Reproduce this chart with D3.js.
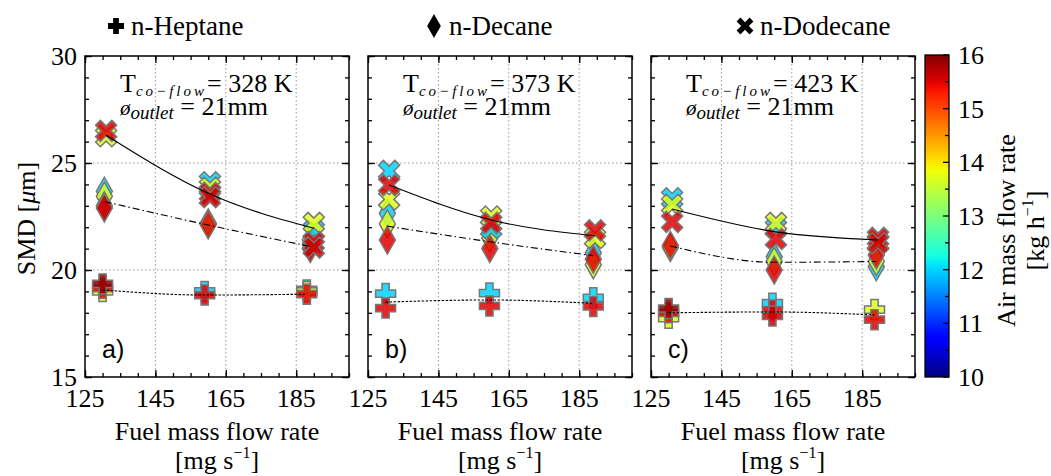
<!DOCTYPE html>
<html>
<head>
<meta charset="utf-8">
<script src="https://cdn.jsdelivr.net/npm/d3@7"></script>
<style>
  body { margin: 0; background: #fff; }
  text { font-family: "Liberation Serif", serif; fill: #000; }
</style>
</head>
<body>
<div id="root"></div>
<script>
// values
var fuels = ['n-Heptane', 'n-Decane', 'n-Dodecane'];
var coflowTemps = [328, 373, 423];
var panelLabels = ['a)', 'b)', 'c)'];
var xTicks = [125, 145, 165, 185];
var yTicks = [15, 20, 25, 30];
var airTicks = [10, 11, 12, 13, 14, 15, 16];

// [panel, fuel mass flow (mg/s), air mass flow (kg/h), SMD (um)]
var heptanePts = [
  [0, 130, 15.9, 19.35], [0, 130, 13.7, 19.0], [0, 130, 15.5, 19.15],
  [0, 159, 12.0, 19.0], [0, 159, 15.5, 18.83],
  [0, 188, 12.0, 19.07], [0, 188, 13.7, 19.0], [0, 188, 15.5, 18.87],
  [1, 130, 12.0, 18.9], [1, 130, 15.5, 18.22],
  [1, 159.5, 12.0, 18.92], [1, 159.5, 15.5, 18.32],
  [1, 189, 12.0, 18.7], [1, 189, 15.5, 18.3],
  [2, 130, 15.9, 18.2], [2, 130, 13.7, 17.75], [2, 130, 15.5, 18.0],
  [2, 159.5, 12.0, 18.45], [2, 159.5, 15.5, 18.13], [2, 159.5, 15.6, 17.85],
  [2, 188.5, 13.7, 18.15], [2, 188.5, 15.5, 17.68]
];
var decanePts = [
  [0, 130.5, 12.0, 23.68], [0, 130.5, 13.7, 23.45], [0, 130.5, 15.5, 23.0], [0, 130.5, 15.6, 22.9],
  [0, 160, 12.0, 22.2], [0, 160, 13.7, 22.15], [0, 160, 15.5, 22.12],
  [0, 189, 13.7, 21.4], [0, 189, 15.5, 21.2], [0, 189, 15.6, 21.0],
  [1, 130.5, 12.0, 22.65], [1, 130.5, 13.7, 22.15], [1, 130.5, 15.5, 21.4],
  [1, 159.6, 12.0, 21.75], [1, 159.6, 13.7, 21.5], [1, 159.6, 15.5, 21.0],
  [1, 189, 12.0, 20.8], [1, 189, 13.7, 20.25], [1, 189, 15.5, 20.5],
  [2, 130.5, 13.7, 21.05], [2, 130.5, 15.5, 21.15],
  [2, 160, 12.0, 20.62], [2, 160, 13.7, 20.4], [2, 160, 15.5, 20.0],
  [2, 189, 12.0, 20.15], [2, 189, 13.7, 20.4], [2, 189, 15.5, 20.7]
];
var dodecanePts = [
  [0, 131, 13.7, 26.25], [0, 131, 15.5, 26.5],
  [0, 160.5, 12.0, 24.1], [0, 160.5, 13.7, 23.85], [0, 160.5, 15.5, 23.6], [0, 160.5, 15.6, 23.4],
  [0, 190, 12.0, 21.85], [0, 190, 13.7, 22.2], [0, 190, 15.5, 21.3], [0, 190, 15.6, 21.05],
  [1, 131, 12.0, 24.63], [1, 131, 13.7, 23.3], [1, 131, 15.5, 23.97],
  [1, 160, 12.0, 21.95], [1, 160, 13.7, 22.5], [1, 160, 15.5, 22.2],
  [1, 189.5, 13.7, 21.5], [1, 189.5, 15.5, 21.85],
  [2, 131, 12.0, 23.35], [2, 131, 13.7, 23.05], [2, 131, 15.5, 22.25],
  [2, 160.5, 12.0, 21.95], [2, 160.5, 13.7, 22.2], [2, 160.5, 15.5, 21.45],
  [2, 189.5, 13.7, 21.3], [2, 189.5, 15.5, 21.5], [2, 189.5, 15.6, 21.25]
];

// fitted trend lines: [panel, fuel mass flow, SMD]
var heptaneLine = [
  [0, 130, 19.07], [0, 159, 18.83], [0, 188, 18.87],
  [1, 130, 18.5], [1, 159.5, 18.6], [1, 189, 18.44],
  [2, 130, 18.0], [2, 159.5, 18.04], [2, 188.5, 17.9]
];
var decaneLine = [
  [0, 130.5, 23.2], [0, 160, 22.1], [0, 189, 21.1],
  [1, 130.5, 22.05], [1, 159.6, 21.32], [1, 189, 20.67],
  [2, 130.5, 21.12], [2, 160, 20.36], [2, 189, 20.4]
];
var dodecaneLine = [
  [0, 131, 26.3], [0, 160.5, 23.55], [0, 190, 21.95],
  [1, 131, 23.97], [1, 160, 22.34], [1, 189.5, 21.6],
  [2, 131, 22.85], [2, 160.5, 21.78], [2, 189.5, 21.4]
];

var W = 1051, H = 476;
var plotTop = 56, pw = 264, ph = 321;
var panelLeft = [85, 368, 651];

// matplotlib 'jet'
function jet(t) {
  t = Math.max(0, Math.min(1, t));
  var r = d3.scaleLinear().domain([0, 0.35, 0.66, 0.89, 1]).range([0, 0, 1, 1, 0.5]).clamp(true)(t);
  var g = d3.scaleLinear().domain([0, 0.125, 0.375, 0.64, 0.91, 1]).range([0, 0, 1, 1, 0, 0]).clamp(true)(t);
  var b = d3.scaleLinear().domain([0, 0.11, 0.34, 0.65, 1]).range([0.5, 1, 1, 0, 0]).clamp(true)(t);
  return d3.rgb(r * 255, g * 255, b * 255).toString();
}
var airScale = d3.scaleLinear().domain([10, 16]).range([0, 1]);
var colorOf = v => jet(airScale(v));

// marker paths
var plusPath = 'M-3.6,-10H3.6V-3.6H10V3.6H3.6V10H-3.6V3.6H-10V-3.6H-3.6Z';
var crossPath = 'M-3.4,-11.5H3.4V-3.4H11.5V3.4H3.4V11.5H-3.4V3.4H-11.5V-3.4H-3.4Z';
var diamondPath = 'M0,-14L8,0L0,14L-8,0Z';
var markers = [
  { path: plusPath, rot: 0 },
  { path: diamondPath, rot: 0 },
  { path: crossPath, rot: 45 }
];

var svg = d3.select('#root')
  .append('svg')
    .attr('width', W)
    .attr('height', H);

// legend
var legendX = [116, 434, 745];
fuels.forEach((f, i) => {
  svg.append('path')
    .attr('d', markers[i].path)
    .attr('transform', 'translate(' + legendX[i] + ',26) rotate(' + markers[i].rot + ') scale(' + (i == 1 ? 0.85 : 0.8) + ')')
    .attr('fill', '#000');
  svg.append('text')
    .attr('x', legendX[i] + 15)
    .attr('y', 35)
    .attr('font-size', '27px')
    .text(f);
});

var x = d3.scaleLinear().domain([125, 200]).range([0, pw]);
var y = d3.scaleLinear().domain([15, 30]).range([ph, 0]);

var ptSets = [heptanePts, decanePts, dodecanePts];
var lineSets = [heptaneLine, decaneLine, dodecaneLine];
var dashes = ['2.5,1.5', '7,3,1.5,3', null];

panelLeft.forEach((left, p) => {
  var g = svg.append('g')
    .attr('transform', 'translate(' + left + ',' + plotTop + ')');

  // grid
  g.selectAll('.vgrid')
    .data([145, 165, 185])
    .enter().append('line')
      .attr('x1', d => x(d)).attr('x2', d => x(d))
      .attr('y1', 0).attr('y2', ph)
      .attr('stroke', '#999').attr('stroke-width', 1)
      .attr('stroke-dasharray', '1.5,2.5');
  g.selectAll('.hgrid')
    .data([20, 25])
    .enter().append('line')
      .attr('x1', 0).attr('x2', pw)
      .attr('y1', d => y(d)).attr('y2', d => y(d))
      .attr('stroke', '#999').attr('stroke-width', 1)
      .attr('stroke-dasharray', '1.5,2.5');

  // axes: major + minor, ticks inward on all sides
  var minorX = d3.range(125, 201, 5), minorY = d3.range(15, 31, 1);
  var sides = [
    [d3.axisBottom, 'translate(0,' + ph + ')', x, minorX, xTicks],
    [d3.axisTop, 'translate(0,0)', x, minorX, xTicks],
    [d3.axisLeft, 'translate(0,0)', y, minorY, yTicks],
    [d3.axisRight, 'translate(' + pw + ',0)', y, minorY, yTicks]
  ];
  sides.forEach(s => {
    g.append('g').attr('transform', s[1])
      .call(s[0](s[2]).tickValues(s[3]).tickSizeInner(-4).tickSizeOuter(0).tickFormat(''))
      .call(a => a.select('.domain').remove());
    g.append('g').attr('transform', s[1])
      .call(s[0](s[2]).tickValues(s[4]).tickSizeInner(-7).tickSizeOuter(0).tickFormat(''))
      .call(a => a.select('.domain').remove());
  });
  g.selectAll('.tick line').attr('stroke', '#000').attr('stroke-width', 1.3);

  // tick labels
  g.selectAll('.xlab')
    .data(xTicks)
    .enter().append('text')
      .attr('x', d => x(d))
      .attr('y', ph + 30)
      .attr('text-anchor', 'middle')
      .attr('font-size', '26px')
      .text(d => d);
  if (p == 0) {
    g.selectAll('.ylab')
      .data(yTicks)
      .enter().append('text')
        .attr('x', -8)
        .attr('y', d => y(d) + 9)
        .attr('text-anchor', 'end')
        .attr('font-size', '26px')
        .text(d => d);
  }

  // markers
  ptSets.forEach((pts, f) => {
    var data = pts.filter(d => d[0] == p).sort((a, b) => a[2] - b[2]);
    g.selectAll('.m' + f)
      .data(data)
      .enter().append('path')
        .attr('d', markers[f].path)
        .attr('transform', d => 'translate(' + x(d[1]) + ',' + y(d[3]) + ') rotate(' + markers[f].rot + ')')
        .attr('fill', d => colorOf(d[2]))
        .attr('fill-opacity', 0.85)
        .attr('stroke', '#777')
        .attr('stroke-width', 1.5);
  });

  // trend lines
  lineSets.forEach((ln, f) => {
    var data = ln.filter(d => d[0] == p);
    g.append('path')
      .datum(data)
      .attr('d', d3.line().x(d => x(d[1])).y(d => y(d[2])).curve(d3.curveMonotoneX))
      .attr('fill', 'none')
      .attr('stroke', '#000')
      .attr('stroke-width', 1.1)
      .attr('stroke-dasharray', dashes[f]);
  });

  // frame
  g.append('rect')
    .attr('width', pw).attr('height', ph)
    .attr('fill', 'none').attr('stroke', '#000').attr('stroke-width', 1.5);

  // annotation
  var t1 = g.append('text').attr('x', 35).attr('y', 36).attr('font-size', '26px');
  t1.append('tspan').text('T');
  t1.append('tspan').attr('font-size', '15px').attr('font-style', 'italic').attr('dy', 4).attr('letter-spacing', 3).text('co\u2212flow');
  t1.append('tspan').attr('dy', -4).text('= ' + coflowTemps[p] + ' K');
  var t2 = g.append('text').attr('x', 35).attr('y', 59).attr('font-size', '26px');
  t2.append('tspan').attr('font-style', 'italic').attr('font-size', '21px').text('\u00f8');
  t2.append('tspan').attr('font-size', '19px').attr('font-style', 'italic').attr('dy', 4).text('outlet');
  t2.append('tspan').attr('dy', -4).text(' = 21mm');

  g.append('text')
    .attr('x', 17).attr('y', 302)
    .style('font-family', '"Liberation Sans", sans-serif')
    .attr('font-size', '25px')
    .text(panelLabels[p]);

  // x axis title
  g.append('text')
    .attr('x', pw / 2).attr('y', ph + 63)
    .attr('text-anchor', 'middle')
    .attr('font-size', '26px')
    .text('Fuel mass flow rate');
  var u = g.append('text')
    .attr('x', pw / 2).attr('y', ph + 92)
    .attr('text-anchor', 'middle')
    .attr('font-size', '26px');
  u.append('tspan').text('[mg s');
  u.append('tspan').attr('font-size', '16px').attr('dy', -11).text('\u22121');
  u.append('tspan').attr('dy', 11).text(']');
});

// y axis title
var yl = svg.append('text')
  .attr('transform', 'translate(35,' + (plotTop + ph / 2 + 2) + ') rotate(-90)')
  .attr('text-anchor', 'middle')
  .attr('font-size', '26px');
yl.append('tspan').text('SMD [');
yl.append('tspan').attr('font-style', 'italic').text('\u03bc');
yl.append('tspan').text('m]');

// colorbar
var cbX = 925, cbW = 24;
var cy = d3.scaleLinear().domain([10, 16]).range([plotTop + ph, plotTop - 1]);
var grad = svg.append('defs').append('linearGradient')
  .attr('id', 'jet').attr('x1', 0).attr('y1', 1).attr('x2', 0).attr('y2', 0);
grad.selectAll('stop')
  .data(d3.range(0, 1.0001, 0.02))
  .enter().append('stop')
    .attr('offset', d => d)
    .attr('stop-color', d => jet(d));
svg.append('rect')
  .attr('x', cbX).attr('y', cy(16))
  .attr('width', cbW).attr('height', cy(10) - cy(16))
  .attr('fill', 'url(#jet)')
  .attr('stroke', '#000').attr('stroke-width', 1.3);
svg.selectAll('.cbtick')
  .data(d3.range(10, 16.01, 0.5))
  .enter().append('line')
    .attr('x1', d => cbX + cbW - (d % 1 == 0 ? 6 : 4)).attr('x2', cbX + cbW)
    .attr('y1', d => cy(d)).attr('y2', d => cy(d))
    .attr('stroke', '#000').attr('stroke-width', 1.3);
svg.selectAll('.cblab')
  .data(airTicks)
  .enter().append('text')
    .attr('x', cbX + cbW + 9)
    .attr('y', d => cy(d) + 9)
    .attr('font-size', '26px')
    .text(d => d);

svg.append('text')
  .attr('transform', 'translate(1015,' + (plotTop + ph / 2 + 14) + ') rotate(-90)')
  .attr('text-anchor', 'middle')
  .attr('font-size', '26px')
  .text('Air mass flow rate');
var cl = svg.append('text')
  .attr('transform', 'translate(1044,' + (plotTop + ph / 2 + 14) + ') rotate(-90)')
  .attr('text-anchor', 'middle')
  .attr('font-size', '26px');
cl.append('tspan').text('[kg h');
cl.append('tspan').attr('font-size', '16px').attr('dy', -11).text('\u22121');
cl.append('tspan').attr('dy', 11).text(']');
</script>
</body>
</html>
